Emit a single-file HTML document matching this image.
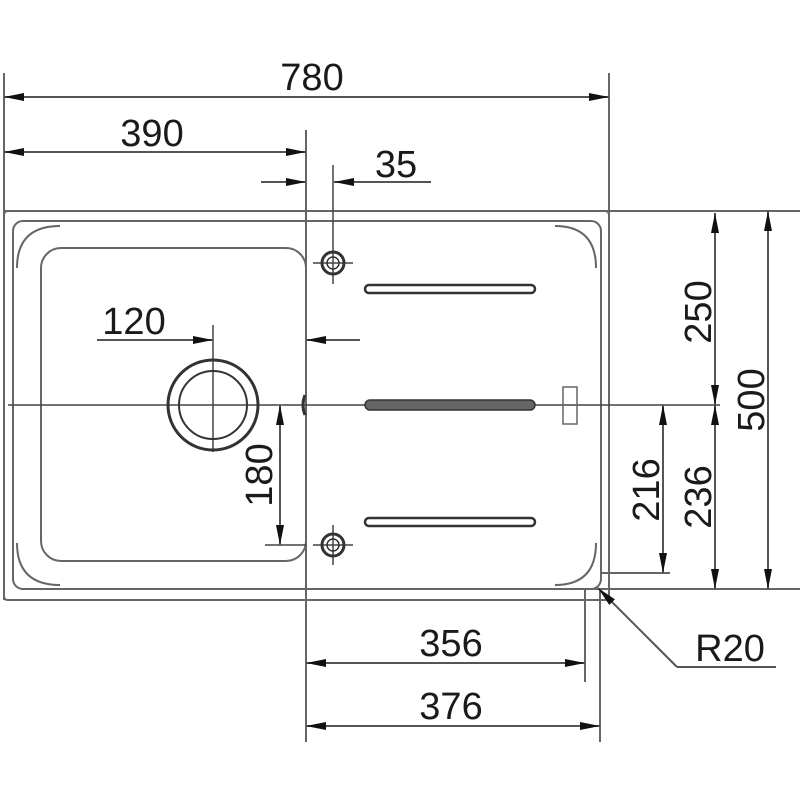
<!DOCTYPE html>
<html><head><meta charset="utf-8"><style>
html,body{margin:0;padding:0;background:#fff}
svg{display:block}
text{font-family:"Liberation Sans",sans-serif;font-size:38px;fill:#1a1a1a}
</style></head><body>
<svg width="800" height="800" viewBox="0 0 800 800" xmlns="http://www.w3.org/2000/svg">
<defs>
<marker id="a" viewBox="0 0 20 8" refX="20" refY="4" markerWidth="20" markerHeight="8" markerUnits="userSpaceOnUse" orient="auto-start-reverse">
<path d="M0,0 L20,4 L0,8 z" fill="#111"/></marker>
</defs>
<g stroke="#666" stroke-width="2" fill="none">
<line x1="4" y1="73" x2="4" y2="600"/>
<line x1="609" y1="73" x2="609" y2="600"/>
<line x1="4" y1="211" x2="800" y2="211"/>
<line x1="557" y1="589" x2="800" y2="589"/>
<line x1="600" y1="573" x2="670" y2="573"/>
<line x1="306" y1="130" x2="306" y2="742"/>
<line x1="585" y1="590" x2="585" y2="682"/>
<line x1="600" y1="590" x2="600" y2="742"/>
<path d="M4,215 Q4,211 8,211 L605,211 Q609,211 609,215 L609,596 Q609,600 605,600 L8,600 Q4,600 4,596 z"/>
<rect x="13" y="221" width="588" height="368" rx="10"/>
<path d="M17,268 Q17,226 60,226 M17,543 Q17,585 60,585 M555,226 Q596,226 596,268 M555,585 Q596,585 596,543"/>
<rect x="41" y="248" width="265" height="313" rx="20"/>
</g>
<g stroke="#444" stroke-width="1.5" fill="none">
<line x1="8" y1="405" x2="720" y2="405"/>
<line x1="213" y1="325" x2="213" y2="452"/>
<line x1="333" y1="165" x2="333" y2="284"/>
<line x1="313" y1="263" x2="353" y2="263"/>
<line x1="333" y1="525" x2="333" y2="565"/>
<line x1="313" y1="545" x2="353" y2="545"/>
<line x1="265" y1="545" x2="306" y2="545"/>
</g>
<g stroke="#333" fill="none">
<circle cx="213" cy="405" r="45" stroke-width="3"/>
<circle cx="213" cy="405" r="34" stroke-width="2"/>
<circle cx="333" cy="263" r="11" stroke-width="3"/>
<circle cx="333" cy="263" r="6" stroke-width="1.5"/>
<circle cx="333" cy="545" r="11" stroke-width="3"/>
<circle cx="333" cy="545" r="6" stroke-width="1.5"/>
<rect x="365" y="285" width="170" height="8" rx="4" stroke-width="2.5"/>
<rect x="365" y="518" width="170" height="8" rx="4" stroke-width="2.5"/>
<rect x="563" y="387" width="14" height="37" stroke-width="1.5" stroke="#666"/>
<path d="M305,395 Q301,405 305,415" stroke-width="3"/>
</g>
<rect x="365" y="400" width="170" height="10" rx="5" fill="#666" stroke="#333" stroke-width="1.5"/>
<g stroke="#555" stroke-width="2" fill="none">
<line x1="4" y1="97" x2="609" y2="97" marker-start="url(#a)" marker-end="url(#a)"/>
<line x1="4" y1="152" x2="306" y2="152" marker-start="url(#a)" marker-end="url(#a)"/>
<line x1="261" y1="182" x2="306" y2="182" marker-end="url(#a)"/>
<line x1="431" y1="182" x2="334" y2="182" marker-end="url(#a)"/>
<line x1="97" y1="340" x2="213" y2="340" marker-end="url(#a)"/>
<line x1="360" y1="340" x2="306" y2="340" marker-end="url(#a)"/>
<line x1="280" y1="405" x2="280" y2="545" marker-start="url(#a)" marker-end="url(#a)"/>
<line x1="715" y1="213" x2="715" y2="405" marker-start="url(#a)" marker-end="url(#a)"/>
<line x1="715" y1="405" x2="715" y2="589" marker-start="url(#a)" marker-end="url(#a)"/>
<line x1="768" y1="211" x2="768" y2="589" marker-start="url(#a)" marker-end="url(#a)"/>
<line x1="663" y1="405" x2="663" y2="573" marker-start="url(#a)" marker-end="url(#a)"/>
<line x1="306" y1="663" x2="585" y2="663" marker-start="url(#a)" marker-end="url(#a)"/>
<line x1="306" y1="726" x2="600" y2="726" marker-start="url(#a)" marker-end="url(#a)"/>
<line x1="677" y1="667" x2="598" y2="588" marker-end="url(#a)"/>
<line x1="677" y1="667" x2="776" y2="667"/>
</g>
<text x="312" y="90" text-anchor="middle">780</text>
<text x="152" y="146" text-anchor="middle">390</text>
<text x="396" y="177" text-anchor="middle">35</text>
<text x="134" y="334" text-anchor="middle">120</text>
<text x="451" y="656" text-anchor="middle">356</text>
<text x="451" y="719" text-anchor="middle">376</text>
<text x="730" y="661" text-anchor="middle">R20</text>
<text transform="translate(272,475) rotate(-90)" text-anchor="middle">180</text>
<text transform="translate(711,312) rotate(-90)" text-anchor="middle">250</text>
<text transform="translate(711,497) rotate(-90)" text-anchor="middle">236</text>
<text transform="translate(764,400) rotate(-90)" text-anchor="middle">500</text>
<text transform="translate(659,490) rotate(-90)" text-anchor="middle">216</text>
</svg>
</body></html>
